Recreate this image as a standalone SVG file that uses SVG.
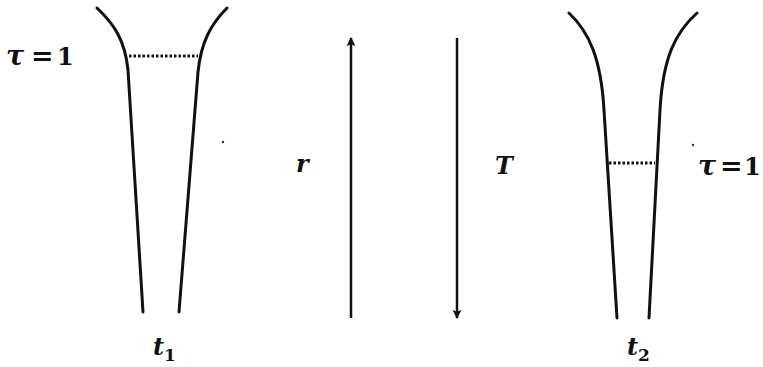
<svg xmlns="http://www.w3.org/2000/svg" width="763" height="367" viewBox="0 0 763 367">
<style>
.wall{fill:none;stroke:#111;stroke-width:3;stroke-linecap:round}
.dot{fill:none;stroke:#111;stroke-width:3;stroke-dasharray:2.5 2}
.arr{fill:none;stroke:#111;stroke-width:2.5}
.lbl{font-family:"DejaVu Serif","Liberation Serif",serif;font-size:24px;font-weight:bold;fill:#111}
.it{font-style:italic}
.tau{font-size:27px}
.eq{font-size:27px}
.sub{font-size:17px;font-style:normal}
</style>
<defs>
<marker id="ah" viewBox="0 0 10 10" refX="9" refY="5" markerWidth="9" markerHeight="12" markerUnits="userSpaceOnUse" orient="auto">
<path d="M0,0 L10,5 L0,10 L2,5 Z" fill="#111"/>
</marker>
</defs>
<rect width="763" height="367" fill="#fff"/>
<g id="funnel-t1">
<path class="wall" d="M97,8 C114,24 125,40 128,70 L143,312"/>
<path class="wall" d="M227,8 C211,24 201,42 198,72 L179,312"/>
<line class="dot" x1="129" y1="56" x2="198" y2="56"/>
<text class="lbl" y="65"><tspan class="it tau" x="6">τ</tspan><tspan class="eq" x="31">=</tspan><tspan x="57">1</tspan></text>
<text class="lbl it" x="153" y="355">t<tspan class="sub" dy="6">1</tspan></text>
<circle cx="223" cy="142" r="1.2" fill="#333"/>
</g>
<g id="funnel-t2">
<path class="wall" d="M569,13 C589,32 601,58 604,110 L617,318"/>
<path class="wall" d="M697,13 C676,32 663,56 660,110 L649,318"/>
<line class="dot" x1="609" y1="163" x2="655" y2="163"/>
<text class="lbl" y="175"><tspan class="it tau" x="698">τ</tspan><tspan class="eq" x="720">=</tspan><tspan x="744">1</tspan></text>
<text class="lbl it" x="627" y="355">t<tspan class="sub" dy="6">2</tspan></text>
<circle cx="693" cy="145" r="1.2" fill="#333"/>
</g>
<g id="connectors">
<line class="arr" x1="351" y1="318" x2="351" y2="38" marker-end="url(#ah)"/>
<line class="arr" x1="457" y1="38" x2="457" y2="318" marker-end="url(#ah)"/>
</g>
<g id="label-r"><text class="lbl it" x="296" y="172">r</text></g>
<g id="label-T"><text class="lbl it" x="495" y="174">T</text></g>
</svg>
